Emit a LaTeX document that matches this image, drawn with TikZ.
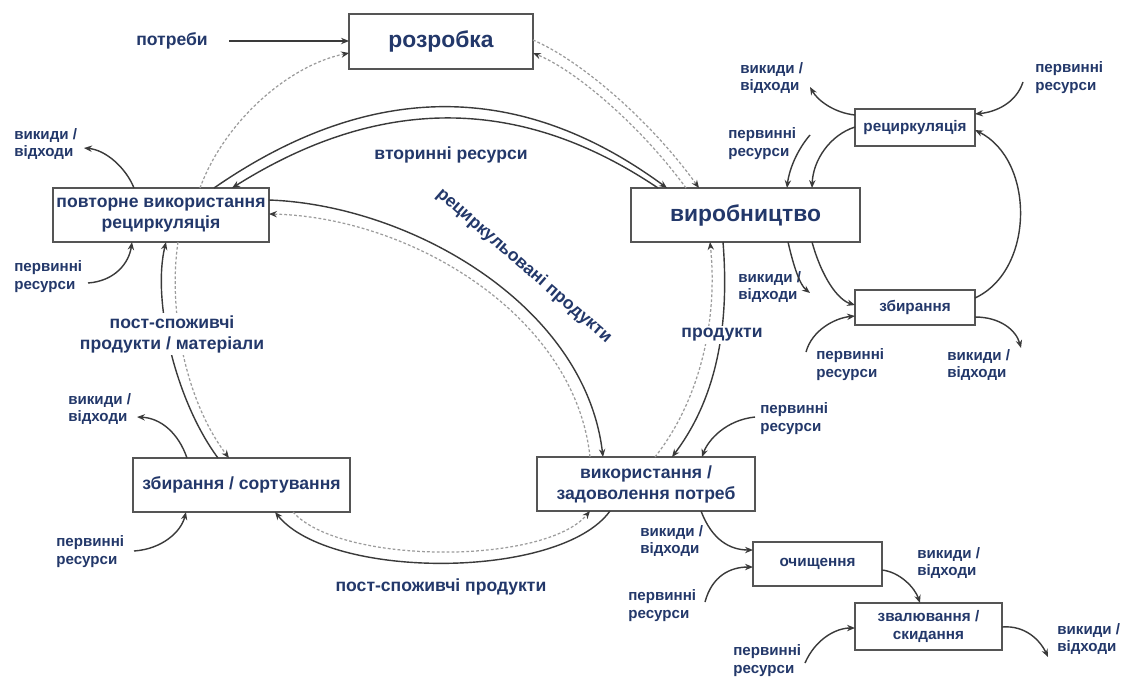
\documentclass[tikz,border=0pt]{standalone}
\usepackage{fontspec}
\setmainfont{Liberation Sans}
\usetikzlibrary{arrows.meta}
\definecolor{ink}{HTML}{23386A}
\definecolor{edge}{HTML}{3A3A3A}
\definecolor{frame}{HTML}{555555}
\definecolor{faint}{HTML}{9C9C9C}

\begin{document}
\begin{tikzpicture}[x=0.02cm,y=-0.02cm,
  box/.style={draw=frame,line width=0.9pt,fill=white,inner sep=0pt,outer sep=0pt,
    align=center,text=ink,font=\bfseries\fontsize{10}{12}\selectfont},
  bigbox/.style={box,font=\bfseries\fontsize{13}{15}\selectfont},
  smallbox/.style={box,font=\bfseries\fontsize{8.7}{10.5}\selectfont},
  note/.style={text=ink,font=\bfseries\fontsize{8.6}{10.2}\selectfont,align=left,
    anchor=west,inner sep=0pt},
  flowlabel/.style={text=ink,font=\bfseries\fontsize{10}{12}\selectfont,align=center,inner sep=1.5pt},
  tip/.style={-{Stealth[length=4.5pt,width=3.6pt]}},
  flow/.style={draw=edge,line width=0.8pt,tip},
  back/.style={draw=faint,line width=0.7pt,dash pattern=on 1.6pt off 1.2pt,
    -{Stealth[length=4.5pt,width=3.6pt,color=edge]}},
  side/.style={draw=edge,line width=0.8pt,tip},
]
\fill[white] (0,0) rectangle (1121,677);
\useasboundingbox (0,0) rectangle (1121,677);

% ---------- stages ----------
\node[bigbox,minimum width=3.68cm,minimum height=1.10cm] (dev) at (441,41.5) {розробка};
\node[box,minimum width=4.32cm,minimum height=1.08cm] (reuse) at (161,215) {повторне використання\\рециркуляція};
\node[bigbox,minimum width=4.58cm,minimum height=1.08cm] (prod) at (745.5,215) {виробництво};
\node[smallbox,minimum width=2.4cm,minimum height=0.74cm] (rec) at (915,127.5) {рециркуляція};
\node[smallbox,minimum width=2.4cm,minimum height=0.70cm] (col) at (915,307.5) {збирання};
\node[box,minimum width=4.34cm,minimum height=1.08cm] (sort) at (241.5,485) {збирання / сортування};
\node[box,minimum width=4.36cm,minimum height=1.08cm] (use) at (646,484) {використання /\\задоволення потреб};
\node[smallbox,minimum width=2.58cm,minimum height=0.88cm] (clean) at (817.5,564) {очищення};
\node[smallbox,minimum width=2.94cm,minimum height=0.94cm] (dump) at (928.5,626.5) {звалювання /\\скидання};

% ---------- main cycle ----------
\node[flowlabel] (needs) at (172,41) {потреби};
\draw[flow] (229,0 |- needs.east) -- (dev.west |- needs.east);

% information flows (dotted)
\draw[back] (200,0 |- reuse.north) .. controls (225,120) and (290,65) .. (dev.west |- 0,53);
\draw[back] (dev.east |- 0,40) .. controls (580,60) and (650,120) .. (699,0 |- prod.north);
\draw[back] (686,0 |- prod.north) .. controls (640,125) and (575,70) .. (dev.east |- 0,53);

% secondary resources
\draw[flow] (214,0 |- reuse.north) .. controls (370,80) and (520,80) .. (667,0 |- prod.north);
\draw[flow] (658,0 |- prod.north) .. controls (520,95) and (380,95) .. (232,0 |- reuse.north);
\node[flowlabel] (secres) at (451,155) {вторинні ресурси};

% recycled products
\draw[flow] (reuse.east |- 0,200) .. controls (410,205) and (585,305) .. (603,0 |- use.north);
\draw[back] (590,0 |- use.north) .. controls (575,315) and (410,217) .. (reuse.east |- 0,214);
\node[flowlabel,rotate=-41] (recprod) at (524,266) {рециркульовані продукти};

% products
\draw[flow] (723,0 |- prod.south) .. controls (730,330) and (715,400) .. (672,0 |- use.north);
\draw[back] (655,0 |- use.north) .. controls (700,400) and (718,320) .. (710,0 |- prod.south);
\node[flowlabel,fill=white] (products) at (722,335) {продукти};

% post-consumer products
\draw[flow] (610,0 |- use.south) .. controls (560,580) and (330,580) .. (275,0 |- sort.south);
\draw[back] (293,0 |- sort.south) .. controls (340,565) and (545,565) .. (590,0 |- use.south);
\node[flowlabel] (postcons) at (441,587) {пост-споживчі продукти};

% post-consumer products / materials
\draw[flow] (218,0 |- sort.north) .. controls (175,400) and (152,300) .. (166,0 |- reuse.south);
\draw[back] (178,0 |- reuse.south) .. controls (168,310) and (185,400) .. (229,0 |- sort.north);
\node[flowlabel,fill=white] (postmat) at (172,334) {пост-споживчі\\продукти / матеріали};

% ---------- side inputs and outputs ----------
\node[note] (n1) at (14,144) {викиди /\\відходи};
\node[note] (n2) at (14,277) {первинні\\ресурси};
\node[note] (n3) at (68,409) {викиди /\\відходи};
\node[note] (n4) at (56,552) {первинні\\ресурси};
\node[note] (n5) at (740,78) {викиди /\\відходи};
\node[note] (n6) at (1035,78) {первинні\\ресурси};
\node[note] (n7) at (728,144) {первинні\\ресурси};
\node[note] (n8) at (738,287) {викиди /\\відходи};
\node[note] (n9) at (816,365) {первинні\\ресурси};
\node[note] (n10) at (947,365) {викиди /\\відходи};
\node[note] (n11) at (760,419) {первинні\\ресурси};
\node[note] (n12) at (640,541) {викиди /\\відходи};
\node[note] (n13) at (628,606) {первинні\\ресурси};
\node[note] (n14) at (917,563) {викиди /\\відходи};
\node[note] (n15) at (733,661) {первинні\\ресурси};
\node[note] (n16) at (1057,639) {викиди /\\відходи};

\coordinate (w1) at (84,148);
\coordinate (p1) at (88,283);
\coordinate (w2) at (137,417);
\coordinate (p2) at (134,551);
\coordinate (w3) at (810,87);
\coordinate (p3) at (1023,82);
\coordinate (p4) at (810,135);
\coordinate (w4) at (810,293);
\coordinate (p5) at (806,352);
\coordinate (w5) at (1021,348);
\coordinate (p6) at (755,417);
\coordinate (p7) at (705,602);
\coordinate (p8) at (805,663);
\coordinate (w6) at (1048,657);

% reuse / recycling
\draw[side] (134,0 |- reuse.north) .. controls (126,168) and (106,150) .. (w1);
\draw[side] (p1) .. controls (115,281) and (129,263) .. (132,0 |- reuse.south);
% collection / sorting
\draw[side] (187,0 |- sort.north) .. controls (178,432) and (160,418) .. (w2);
\draw[side] (p2) .. controls (162,549) and (181,532) .. (186,0 |- sort.south);
% recycling loop beside production
\draw[side] (rec.west |- 0,115) .. controls (835,113) and (818,101) .. (w3);
\draw[side] (p3) .. controls (1016,103) and (996,112) .. (rec.east |- 0,114);
\draw[side] (p4) .. controls (797,150) and (789,170) .. (787,0 |- prod.north);
\draw[side] (rec.west |- 0,127) .. controls (830,135) and (813,160) .. (812,0 |- prod.north);
\draw[side] (788,0 |- prod.south) .. controls (794,268) and (800,285) .. (w4);
\draw[side] (812,0 |- prod.south) .. controls (822,278) and (838,300) .. (col.west |- 0,305);
\draw[side] (p5) .. controls (812,330) and (835,318) .. (col.west |- 0,316);
\draw[side] (col.east |- 0,298) .. controls (1035,270) and (1035,160) .. (rec.east |- 0,130);
\draw[side] (col.east |- 0,317) .. controls (1000,317) and (1016,330) .. (w5);
% use, treatment, disposal
\draw[side] (p6) .. controls (726,420) and (708,440) .. (702,0 |- use.north);
\draw[side] (701,0 |- use.south) .. controls (712,540) and (730,550) .. (clean.west |- 0,550);
\draw[side] (p7) .. controls (712,576) and (730,567) .. (clean.west |- 0,567);
\draw[side] (clean.east |- 0,570) .. controls (900,572) and (915,588) .. (920,0 |- dump.north);
\draw[side] (p8) .. controls (815,640) and (835,628) .. (dump.west |- 0,628);
\draw[side] (dump.east |- 0,627) .. controls (1025,625) and (1040,640) .. (w6);
\end{tikzpicture}
\end{document}
